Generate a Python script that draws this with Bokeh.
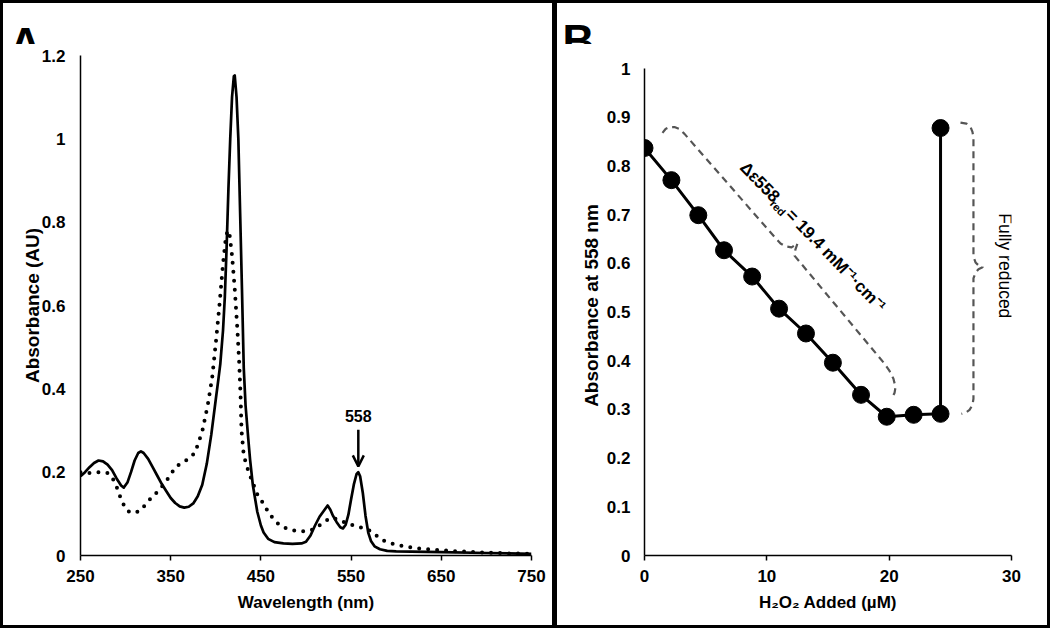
import math
from bokeh.plotting import figure
from bokeh.layouts import row, column
from bokeh.models import FixedTicker, Arrow, OpenHead, Range1d, Plot
from bokeh.core.properties import value
from bokeh.embed import file_html
from bokeh.resources import INLINE

FONT = "Liberation Sans"

# ---------------- Panel A data ----------------
wl_reduced = [250, 255, 260, 265, 270, 275, 280, 285, 290, 295, 298, 302, 306, 310, 314, 317,
              320, 325, 330, 335, 340, 345, 350, 355, 360, 365, 370, 375, 380, 385, 390, 395,
              400, 403, 405, 408, 410, 412, 414, 416, 418, 420, 421, 423, 425, 427, 429, 431,
              433, 436, 438, 441, 446, 450, 453, 458, 465, 475, 485, 495, 500, 505, 510, 515,
              520, 524, 527, 530, 534, 538, 541, 544, 547, 550, 553, 556, 558, 560, 563, 566,
              569, 572, 576, 582, 590, 600, 650, 700, 750]
abs_reduced = [0.190, 0.200, 0.212, 0.222, 0.228, 0.226, 0.218, 0.205, 0.185, 0.168, 0.163, 0.175,
               0.200, 0.228, 0.246, 0.250, 0.246, 0.232, 0.212, 0.192, 0.172, 0.155, 0.138, 0.126,
               0.118, 0.115, 0.117, 0.125, 0.142, 0.170, 0.220, 0.290, 0.375, 0.425, 0.460, 0.540,
               0.620, 0.740, 0.880, 1.000, 1.100, 1.150, 1.152, 1.100, 1.000, 0.820, 0.640, 0.450,
               0.360, 0.280, 0.230, 0.170, 0.105, 0.072, 0.055, 0.040, 0.032, 0.029, 0.028, 0.029,
               0.033, 0.048, 0.072, 0.093, 0.108, 0.120, 0.110, 0.095, 0.080, 0.068, 0.065, 0.074,
               0.098, 0.135, 0.170, 0.195, 0.200, 0.190, 0.150, 0.095, 0.055, 0.035, 0.022, 0.015,
               0.011, 0.010, 0.008, 0.006, 0.004]

wl_oxidized = [250, 260, 270, 280, 285, 290, 295, 300, 305, 310, 315, 320, 325, 330, 335, 340,
               345, 350, 355, 360, 365, 370, 377, 385, 391, 396, 400, 404, 408, 411, 413, 415,
               418, 421, 424, 426, 427.5, 428.5, 431, 435, 440, 446, 452, 460, 468, 477, 486, 495,
               505, 512, 520, 527, 532, 537, 545, 553, 560, 569, 578, 586, 595, 605, 620, 640,
               660, 680, 700, 725, 750]
abs_oxidized = [0.200, 0.198, 0.200, 0.198, 0.188, 0.165, 0.135, 0.112, 0.103, 0.103, 0.106, 0.117,
                0.130, 0.142, 0.152, 0.165, 0.178, 0.195, 0.210, 0.220, 0.226, 0.232, 0.247, 0.298,
                0.360, 0.427, 0.510, 0.600, 0.700, 0.760, 0.780, 0.775, 0.720, 0.640, 0.540, 0.460,
                0.380, 0.300, 0.240, 0.210, 0.180, 0.147, 0.127, 0.098, 0.078, 0.066, 0.060, 0.058,
                0.060, 0.068, 0.080, 0.090, 0.089, 0.085, 0.078, 0.072, 0.068, 0.062, 0.048, 0.036,
                0.029, 0.024, 0.018, 0.014, 0.011, 0.009, 0.007, 0.005, 0.004]

a_xticks = [250, 350, 450, 550, 650, 750]
a_xtick_labels = ["250", "350", "450", "550", "650", "750"]
a_yticks = [0, 0.2, 0.4, 0.6, 0.8, 1.0, 1.2]
a_ytick_labels = ["0", "0.2", "0.4", "0.6", "0.8", "1", "1.2"]

peak_label = "558"
peak_label_pos = (558, 0.334)
peak_arrow = (558, 0.302, 558, 0.214)

# ---------------- Panel B data ----------------
h2o2_added = [0, 2.2, 4.4, 6.5, 8.8, 11.0, 13.2, 15.4, 17.7, 19.8, 22.0, 24.2, 24.2]
abs_558 = [0.837, 0.771, 0.699, 0.627, 0.573, 0.507, 0.456, 0.396, 0.330, 0.285, 0.289, 0.291, 0.878]

b_xticks = [0, 10, 20, 30]
b_xtick_labels = ["0", "10", "20", "30"]
b_yticks = [0, 0.1, 0.2, 0.3, 0.4, 0.5, 0.6, 0.7, 0.8, 0.9, 1.0]
b_ytick_labels = ["0", "0.1", "0.2", "0.3", "0.4", "0.5", "0.6", "0.7", "0.8", "0.9", "1"]

# dashed braces (annotation outlines)
brace1_x = [1.47, 1.72, 2.04, 2.45, 2.86, 3.27, 10.71, 11.12, 11.53, 12.02, 12.51,
            12.34, 12.26, 19.62, 20.03, 20.35, 20.52, 20.44, 20.27]
brace1_y = [0.868, 0.876, 0.880, 0.880, 0.876, 0.866, 0.652, 0.641, 0.635, 0.633, 0.641,
            0.629, 0.616, 0.394, 0.379, 0.363, 0.346, 0.334, 0.326]
brace2_x = [25.83, 26.32, 26.65, 26.81, 26.89, 26.89, 27.06, 27.30, 27.63, 27.30, 27.06,
            26.89, 26.89, 26.81, 26.57, 26.24, 25.91]
brace2_y = [0.889, 0.887, 0.880, 0.870, 0.858, 0.614, 0.602, 0.596, 0.592, 0.588, 0.581,
            0.569, 0.322, 0.309, 0.299, 0.293, 0.291]

eps_texts = ["Δε558", "red", " = 19.4 mM⁻¹·cm⁻¹"]
eps_sizes = ["17px", "11px", "17px"]
eps_anchor = (8.05, 0.803)
eps_angle_deg = -46
full_label = "Fully reduced"
full_label_pos = (29.5, 0.595)

# panel tags: text, left position, baseline position within header strip (pixels)
tag_a = ("A.", 6, 40)
tag_b = ("B.", 5, 37)

USE_HEADER = "frame_align" in Plot.properties()
HEADER_H = 44 if USE_HEADER else 0


def style_axes(p, ylab_standoff, ytick_standoff):
    for ax in p.axis:
        ax.axis_line_width = 1.5
        ax.axis_line_color = "black"
        ax.major_label_text_font = FONT
        ax.major_label_text_font_style = "bold"
        ax.major_label_text_font_size = "17px"
        ax.major_label_text_color = "black"
        ax.axis_label_text_font = FONT
        ax.axis_label_text_font_style = "bold"
        ax.axis_label_text_color = "black"
        ax.minor_tick_line_color = None
    xa = p.xaxis[0]
    xa.axis_label_text_font_size = "17px"
    xa.major_tick_out = 5
    xa.major_tick_in = 0
    xa.major_tick_line_width = 1.5
    xa.major_label_standoff = 9
    xa.axis_label_standoff = 8
    ya = p.yaxis[0]
    ya.axis_label_text_font_size = "19px"
    ya.major_tick_out = 0
    ya.major_tick_in = 0
    ya.major_tick_line_color = None
    ya.major_label_standoff = ytick_standoff
    ya.axis_label_standoff = ylab_standoff
    p.grid.visible = False
    p.outline_line_color = None
    p.background_fill_color = "white"
    p.border_fill_color = "white"


def header(width, spec, left_border):
    txt, x, y = spec
    h = figure(width=width, height=HEADER_H, x_range=Range1d(0, width), y_range=Range1d(HEADER_H, 0),
               x_axis_type=None, y_axis_type=None, output_backend="svg", toolbar_location=None,
               min_border=0, frame_align=False)
    # shrink the (empty) default title so that it reserves no space
    h.title.text = ""
    h.title.text_font_size = "1px"
    h.title.standoff = 0
    h.grid.visible = False
    h.outline_line_color = None
    h.border_fill_color = "white"
    h.background_fill_color = "white"
    h.text(x=[x], y=[y], text=[txt], text_font=value(FONT), text_font_size="44px",
           text_font_style="bold", text_color="black", text_align="left",
           text_baseline="alphabetic")
    h.styles = {"border-top": "3px solid black", "border-right": "3px solid black",
                "border-left": f"{left_border}px solid black"}
    return h


def title_tag(p, spec, offset):
    p.title.text = spec[0]
    p.title.text_font = FONT
    p.title.text_font_size = "44px"
    p.title.text_font_style = "bold"
    p.title.text_color = "black"
    p.title.align = "left"
    p.title.vertical_align = "top"
    p.title.offset = offset
    p.title.standoff = 2


top_a = 11 if USE_HEADER else 55
top_b = 11 if USE_HEADER else 55

# ---------------- Panel A ----------------
pA = figure(width=555, height=628 - HEADER_H, x_range=(250, 750), y_range=(0, 1.2),
            output_backend="svg", toolbar_location=None,
            min_border_left=77, min_border_right=27, min_border_top=top_a, min_border_bottom=73,
            x_axis_label="Wavelength (nm)", y_axis_label="Absorbance (AU)")
style_axes(pA, -4, 15)
pA.xaxis[0].ticker = FixedTicker(ticks=a_xticks)
pA.xaxis[0].major_label_overrides = dict(zip(a_xticks, a_xtick_labels))
pA.yaxis[0].ticker = FixedTicker(ticks=a_yticks)
pA.yaxis[0].major_label_overrides = dict(zip(a_yticks, a_ytick_labels))

pA.line(wl_oxidized, abs_oxidized, line_width=4, line_dash="0 9", line_cap="round", color="black")
pA.line(wl_reduced, abs_reduced, line_width=2.7, line_join="round", color="black")
pA.text(x=[peak_label_pos[0]], y=[peak_label_pos[1]], text=[peak_label],
        text_font=value(FONT), text_font_style="bold", text_font_size="16px",
        text_align="center", text_baseline="middle", text_color="black")
pA.add_layout(Arrow(end=OpenHead(size=11, line_width=2.5, line_color="black"),
                    x_start=peak_arrow[0], y_start=peak_arrow[1],
                    x_end=peak_arrow[2], y_end=peak_arrow[3],
                    line_width=2.5, line_color="black"))

# ---------------- Panel B ----------------
pB = figure(width=495, height=628 - HEADER_H, x_range=(0, 30), y_range=(0, 1.027),
            output_backend="svg", toolbar_location=None,
            min_border_left=87, min_border_right=41, min_border_top=top_b, min_border_bottom=73,
            x_axis_label="H₂O₂ Added (µM)", y_axis_label="Absorbance at 558 nm")
style_axes(pB, 2, 14)
pB.yaxis[0].bounds = (0, 1)
pB.xaxis[0].ticker = FixedTicker(ticks=b_xticks)
pB.xaxis[0].major_label_overrides = dict(zip(b_xticks, b_xtick_labels))
pB.yaxis[0].ticker = FixedTicker(ticks=b_yticks)
pB.yaxis[0].major_label_overrides = dict(zip(b_yticks, b_ytick_labels))

pB.line(brace1_x, brace1_y, line_width=2.2, line_dash="7 5", color="#555555", line_join="round")
pB.line(brace2_x, brace2_y, line_width=2.2, line_dash="7 5", color="#555555", line_join="round")
pB.line(h2o2_added, abs_558, line_width=3, color="black")
pB.scatter(h2o2_added, abs_558, size=17, color="black")

th = math.radians(eps_angle_deg)
d = (math.cos(-th), math.sin(-th))        # along text, screen coords (y down)
n = (-math.sin(-th), math.cos(-th))       # text "down" direction, screen coords
along = [0, 47, 66]
perp = [0, 5, 0]
for t, s, a_, q in zip(eps_texts, eps_sizes, along, perp):
    pB.text(x=[eps_anchor[0]], y=[eps_anchor[1]], text=[t],
            x_offset=a_ * d[0] + q * n[0], y_offset=a_ * d[1] + q * n[1],
            angle=th, text_font=value(FONT), text_font_style="bold", text_font_size=s,
            text_align="left", text_baseline="middle", text_color="black")

pB.text(x=[full_label_pos[0]], y=[full_label_pos[1]], text=[full_label], angle=-math.pi / 2,
        text_font=value(FONT), text_font_size="17.5px", text_align="center",
        text_baseline="middle", text_color="black")

if USE_HEADER:
    pA.styles = {"border-left": "3px solid black", "border-right": "3px solid black",
                 "border-bottom": "3px solid black"}
    pB.styles = {"border-right": "3px solid black", "border-bottom": "3px solid black",
                 "border-left": "2px solid black"}
    hA = header(555, tag_a, 3)
    hB = header(495, tag_b, 2)
    layout = row(column(hA, pA), column(hB, pB))
else:
    title_tag(pA, tag_a, -71)
    title_tag(pB, tag_b, -80)
    pA.styles = {"border": "3px solid black"}
    pB.styles = {"border-top": "3px solid black", "border-right": "3px solid black",
                 "border-bottom": "3px solid black", "border-left": "2px solid black"}
    layout = row(pA, pB)

open("out.html", "w").write(file_html(layout, INLINE))
